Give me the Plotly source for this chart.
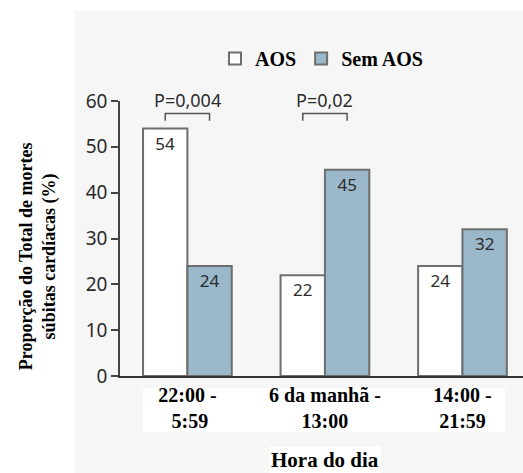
import plotly.graph_objects as go

# Data
categories = ["22:00 -<br> 5:59", "6 da manhã -<br>13:00", "14:00 -<br>21:59"]
aos = [54, 22, 24]
sem_aos = [24, 45, 32]
p_labels = ["P=0,004", "P=0,02"]
p_groups = [0, 1]
y_ticks = [0, 10, 20, 30, 40, 50, 60]

Y_RANGE = [0, 60]
X_RANGE = [-0.49, 2.44]
BAR_OFFSET = 0.161  # half of one bar width in category units

SANS = "Noto Sans"
SERIF = "Liberation Serif"
EDGE = "#6e6e6e"
BLUE = "#9ab8c9"
INK = "#2b2b2b"

# plot-area size in pixels, used to place decorations in paper units
PLOT_W, PLOT_H = 403, 275.5
PLOT_L, PLOT_B = 120, 376


def px_(x):
    return (x - X_RANGE[0]) / (X_RANGE[1] - X_RANGE[0])


def py_(y):
    return (y - Y_RANGE[0]) / (Y_RANGE[1] - Y_RANGE[0])


def pix_x(p):
    return (p - PLOT_L) / PLOT_W


def pix_y(p):
    return (PLOT_B - p) / PLOT_H


fig = go.Figure()
fig.add_trace(go.Bar(
    x=list(range(len(categories))), y=aos, name="<b>AOS</b>",
    marker=dict(color="white", line=dict(color=EDGE, width=2)),
    text=[str(v) for v in aos], textposition="inside", insidetextanchor="end",
    textfont=dict(family=SANS, size=17, color=INK),
))
fig.add_trace(go.Bar(
    x=list(range(len(categories))), y=sem_aos, name="<b>Sem AOS</b>",
    marker=dict(color=BLUE, line=dict(color=EDGE, width=2)),
    text=[str(v) for v in sem_aos], textposition="inside", insidetextanchor="end",
    textfont=dict(family=SANS, size=17, color=INK),
))

shapes = [
    # light panel behind the chart
    dict(type="rect", xref="paper", yref="paper", x0=pix_x(75), x1=1.05,
         y0=-0.5, y1=pix_y(10), fillcolor="#f6f6f6", line=dict(width=0),
         layer="below"),
    # white band behind the category labels
    dict(type="rect", xref="paper", yref="paper", x0=pix_x(143), x1=pix_x(505),
         y0=pix_y(432), y1=pix_y(388), fillcolor="white", line=dict(width=0),
         layer="below"),
]

annotations = []
for lab, g in zip(p_labels, p_groups):
    xa = px_(g - BAR_OFFSET)
    xb = px_(g + BAR_OFFSET)
    ytop = py_(57.3)
    ybot = py_(55.7)
    shapes.append(dict(type="path", xref="paper", yref="paper",
                       path=f"M {xa},{ybot} L {xa},{ytop} L {xb},{ytop} L {xb},{ybot}",
                       line=dict(color="#555555", width=1.5)))
    annotations.append(dict(x=px_(g), y=py_(60.2), xref="paper", yref="paper", text=lab,
                            showarrow=False, font=dict(family=SANS, size=18, color=INK),
                            xanchor="center", yanchor="middle"))

annotations.append(dict(
    x=pix_x(38), y=pix_y(256), xref="paper", yref="paper",
    text="<b>Proporção do Total de mortes<br>súbitas cardíacas (%)</b>", textangle=-90,
    showarrow=False, font=dict(family=SERIF, size=18, color="black"),
    xanchor="center", yanchor="middle"))
annotations.append(dict(
    x=px_(1), y=pix_y(460), xref="paper", yref="paper", text="<b>Hora do dia</b>",
    showarrow=False, font=dict(family=SERIF, size=21, color="black"),
    bgcolor="white", xanchor="center", yanchor="middle"))

fig.update_layout(
    width=523, height=473,
    margin=dict(l=120, r=0, t=100.5, b=97),
    paper_bgcolor="white", plot_bgcolor="rgba(0,0,0,0)",
    barmode="group", bargap=0.355, bargroupgap=0,
    showlegend=True,
    legend=dict(orientation="h", x=0.5, xanchor="center", y=1.155, yanchor="middle",
                font=dict(family=SERIF, size=20, color="black"),
                bgcolor="rgba(0,0,0,0)", traceorder="normal"),
    xaxis=dict(range=X_RANGE, tickvals=list(range(len(categories))),
               ticktext=[f"<b>{c}</b>" for c in categories],
               tickfont=dict(family=SERIF, size=20, color="black"),
               showline=True, linecolor="#333333", linewidth=1.5,
               ticks="", showgrid=False, zeroline=False, fixedrange=True),
    yaxis=dict(range=Y_RANGE, tickvals=y_ticks, ticks="outside", ticklen=7,
               tickcolor="#444444", tickwidth=1.5,
               tickfont=dict(family=SANS, size=19, color=INK),
               showline=True, linecolor="#444444", linewidth=1.5,
               showgrid=False, zeroline=False, fixedrange=True),
    shapes=shapes, annotations=annotations,
)

fig.write_html("out.html")
